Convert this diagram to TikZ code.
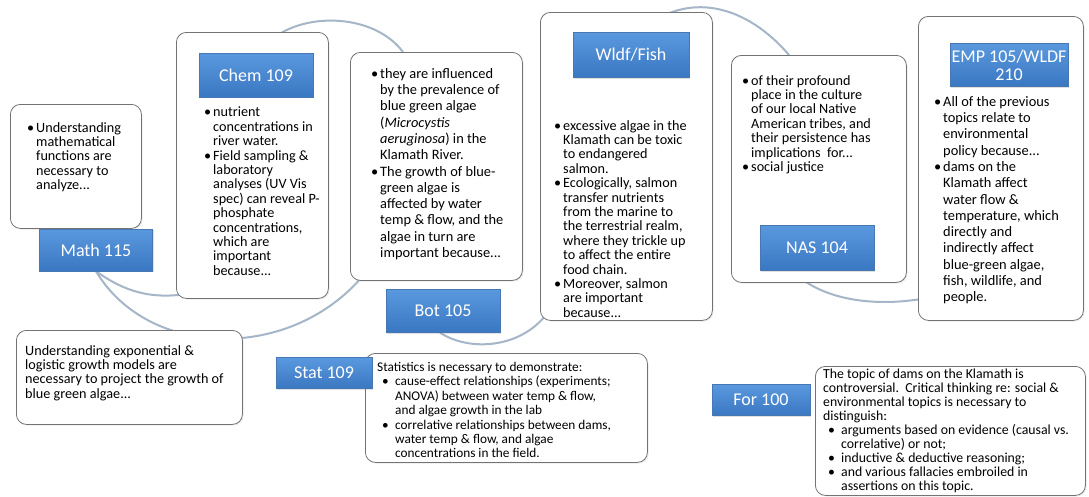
\documentclass[tikz,border=0pt]{standalone}
\usepackage{fontspec}
\setmainfont{Carlito}
\usetikzlibrary{calc,positioning,shadows,backgrounds}

\definecolor{tabtop}{RGB}{90,152,222}
\definecolor{tabbot}{RGB}{58,119,194}
\definecolor{tabline}{RGB}{72,120,180}
\definecolor{boxline}{RGB}{115,115,115}
\definecolor{wavecol}{RGB}{165,182,200}

\newcommand{\bitem}{\makebox[9pt][l]{\textbullet}}
\newcommand{\bcont}{\hspace*{9pt}}
\newcommand{\sitem}{\hspace*{5pt}\makebox[13pt][l]{\textbullet}}
\newcommand{\scont}{\hspace*{18pt}}

\tikzset{
  txtbox/.style={draw=boxline, fill=white, line width=0.8pt, rounded corners=10pt,
    inner sep=0pt, anchor=north west,
    drop shadow={opacity=0.15, shadow xshift=1.2pt, shadow yshift=-1.2pt}},
  tab/.style={draw=tabline, top color=tabtop, bottom color=tabbot, text=white,
    font=\fontsize{18}{18}\selectfont, inner sep=0pt, align=center,
    drop shadow={opacity=0.25, shadow xshift=1.2pt, shadow yshift=-1.2pt}},
  body/.style={inner sep=0pt, align=left, font=\fontsize{14.2}{14.4}\selectfont},
  bodyloose/.style={body, font=\fontsize{14.4}{16.3}\selectfont},
  bodysmall/.style={body, font=\fontsize{13.3}{14.4}\selectfont},
  bodytight/.style={body, font=\fontsize{13.8}{14}\selectfont},
  wave/.style={draw=wavecol, line width=2pt}
}

\begin{document}
\begin{tikzpicture}[x=1pt,y=-1pt]
  \useasboundingbox (0,0) rectangle (1089,496);
  \def\showBoxes{
    \node[txtbox, minimum width=131, minimum height=124] (mathbox) at (10,104) {};
    \node[txtbox, minimum width=152, minimum height=266] (chembox) at (176,32) {};
    \node[txtbox, minimum width=172, minimum height=228] (botbox) at (350,52) {};
    \node[txtbox, minimum width=172, minimum height=308] (wldfbox) at (540,12) {};
    \node[txtbox, minimum width=175, minimum height=227] (nasbox) at (731,55) {};
    \node[txtbox, minimum width=165, minimum height=304] (empbox) at (918,16) {};
    \node[txtbox, minimum width=226, minimum height=94] (growbox) at (16,330) {};
    \node[txtbox, minimum width=282, minimum height=109] (statbox) at (365,353) {};
    \node[txtbox, minimum width=270, minimum height=129] (forbox) at (815,366) {};
  }
  \def\showTabs{
    \node[tab, minimum width=113, minimum height=42] (math115) at (96,250) {Math 115};
    \node[tab, minimum width=114, minimum height=44] (chem109) at (256,75) {Chem 109};
    \node[tab, minimum width=114, minimum height=43] (bot105) at (443,311) {Bot 105};
    \node[tab, minimum width=116, minimum height=45] (wldf) at (631,55) {Wldf/Fish};
    \node[tab, minimum width=114, minimum height=45] (nas104) at (817,248) {NAS 104};
    \node[tab, minimum width=118, minimum height=43] (emp105) at (1009,65) {EMP 105/WLDF\\210};
    \node[tab, minimum width=96, minimum height=31] (stat109) at (324,373) {Stat 109};
    \node[tab, minimum width=98, minimum height=31] (for100) at (761,400) {For 100};
  }
  \def\wavePoints{
    \coordinate (w1) at (math115.south);
    \coordinate (w2) at ($(chembox.south west)+(4,-4)$);
    \coordinate (w3) at ($(botbox.south west)+(20,-14)$);
    \coordinate (w4) at ($(chem109.north)+(4,0)$);
    \coordinate (w5) at ($(botbox.north west)+(53,0)$);
    \coordinate (w6) at ($(bot105.south)+(-3,0)$);
    \coordinate (w7) at ($(wldfbox.south west)+(6,-6)$);
    \coordinate (w8) at ($(wldf.north)+(9,0)$);
    \coordinate (w9) at ($(nasbox.north west)+(58,0)$);
    \coordinate (w10) at ($(nasbox.south)+(-20,-6)$);
    \coordinate (w11) at ($(empbox.south west)+(4,-22)$);
  }
  \def\showWave{
    % curves behind the boxes
    \draw[wave] (w1) .. controls (125,292) and (150,298) .. (w2);
    \draw[wave] (w1) .. controls (150,362) and (300,362) .. (w3);
    \draw[wave] (w4) .. controls (285,12) and (370,8) .. (w5);
    \draw[wave] (w6) .. controls (470,352) and (520,348) .. (w7);
    \draw[wave] (w8) .. controls (680,-6) and (740,-2) .. (w9);
    \draw[wave] (w10) .. controls (830,302) and (880,306) .. (w11);
  }
  \def\showTexts{
    \node[body, below right=18pt and 17pt of mathbox.north west] (mathtxt) {%
      \bitem Understanding\\ \bcont mathematical\\ \bcont functions are\\
      \bcont necessary to\\ \bcont analyze...};
    \node[body, below right=75pt and 28pt of chembox.north west] (chemtxt) {%
      \bitem nutrient\\ \bcont concentrations in\\ \bcont river water.\\
      \bitem Field sampling \&\\ \bcont laboratory\\ \bcont analyses (UV Vis\\
      \bcont spec) can reveal P-\\ \bcont phosphate\\ \bcont concentrations,\\
      \bcont which are\\ \bcont important\\ \bcont because...};
    \node[bodyloose, below right=16pt and 21pt of botbox.north west] (bottxt) {%
      \bitem they are influenced\\ \bcont by the prevalence of\\ \bcont blue green algae\\
      \bcont (\textit{Microcystis}\\ \bcont \textit{aeruginosa}) in the\\ \bcont Klamath River.\\
      \bitem The growth of blue-\\ \bcont green algae is\\ \bcont affected by water\\
      \bcont temp \& flow, and the\\ \bcont algae in turn are\\ \bcont important because...};
    \node[body, below right=108pt and 14pt of wldfbox.north west] (wldftxt) {%
      \bitem excessive algae in the\\ \bcont Klamath can be toxic\\ \bcont to endangered\\
      \bcont salmon.\\ \bitem Ecologically, salmon\\ \bcont transfer nutrients\\
      \bcont from the marine to\\ \bcont the terrestrial realm,\\ \bcont where they trickle up\\
      \bcont to affect the entire\\ \bcont food chain.\\ \bitem Moreover, salmon\\
      \bcont are important\\ \bcont because...};
    \node[body, below right=20pt and 11pt of nasbox.north west] (nastxt) {%
      \bitem of their profound\\ \bcont place in the culture\\ \bcont of our local Native\\
      \bcont American tribes, and\\ \bcont their persistence has\\
      \bcont implications\ \ for...\\ \bitem social justice};
    \node[bodyloose, below right=80pt and 16pt of empbox.north west] (emptxt) {%
      \bitem All of the previous\\ \bcont topics relate to\\ \bcont environmental\\
      \bcont policy because...\\ \bitem dams on the\\ \bcont Klamath affect\\
      \bcont water flow \&\\ \bcont temperature, which\\ \bcont directly and\\
      \bcont indirectly affect\\ \bcont blue-green algae,\\ \bcont fish, wildlife, and\\
      \bcont people.};
    \node[body, below right=15pt and 9pt of growbox.north west] (growtxt) {%
      Understanding exponential \&\\ logistic growth models are\\
      necessary to project the growth of\\ blue green algae...};
    \node[bodysmall, below right=9pt and 12pt of statbox.north west] (stattxt) {%
      Statistics is necessary to demonstrate:\\
      \sitem cause-effect relationships (experiments;\\
      \scont ANOVA) between water temp \& flow,\\
      \scont and algae growth in the lab\\
      \sitem correlative relationships between dams,\\
      \scont water temp \& flow, and algae\\
      \scont concentrations in the field.};
    \node[bodytight, below right=3pt and 8pt of forbox.north west] (fortxt) {%
      The topic of dams on the Klamath is\\
      controversial.\ \ Critical thinking re: social \&\\
      environmental topics is necessary to\\ distinguish:\\
      \sitem arguments based on evidence (causal vs.\\
      \scont correlative) or not;\\
      \sitem inductive \& deductive reasoning;\\
      \sitem and various fallacies embroiled in\\
      \scont assertions on this topic.};
  }
  \showBoxes
  \showTabs
  \showTexts
  \wavePoints
  \begin{scope}[on background layer]
    \fill[white] (0,0) rectangle (1089,496);
    \showWave
  \end{scope}
\end{tikzpicture}
\end{document}
